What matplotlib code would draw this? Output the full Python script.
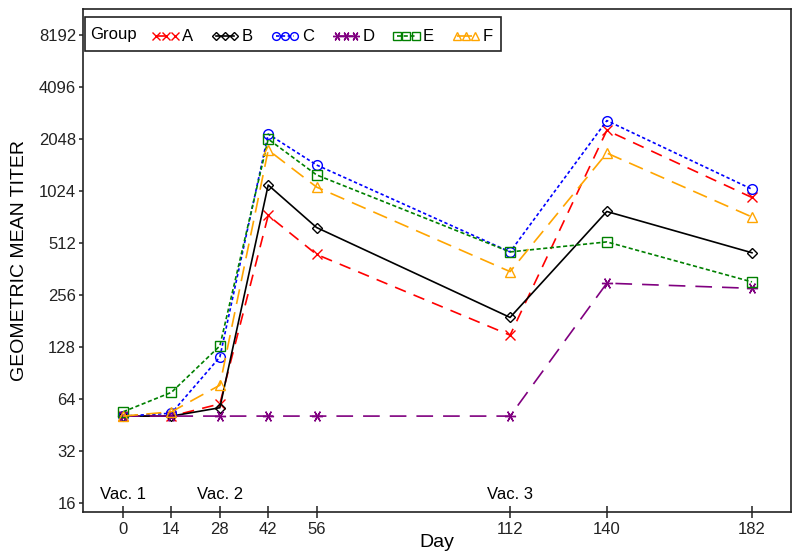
import matplotlib
matplotlib.use("Agg")
import matplotlib.pyplot as plt
from matplotlib.patches import Rectangle
from matplotlib.ticker import NullLocator
import matplotlib.transforms as mtransforms

plt.rcParams['font.family'] = ['Liberation Sans', 'DejaVu Sans']

days = [0, 14, 28, 42, 56, 112, 140, 182]
group_A = [51, 51, 60, 740, 440, 150, 2300, 940]
group_B = [51, 51, 57, 1110, 630, 190, 780, 450]
group_C = [51, 53, 112, 2190, 1450, 455, 2620, 1050]
group_D = [51, 51, 51, 51, 51, 51, 300, 280]
group_E = [54, 70, 130, 2048, 1270, 455, 520, 305]
group_F = [51, 54, 77, 1770, 1080, 350, 1700, 725]
group_names = ['A', 'B', 'C', 'D', 'E', 'F']
ytick_vals = [16, 32, 64, 128, 256, 512, 1024, 2048, 4096, 8192]
vac_days = [0, 28, 112]
vac_labels = ['Vac. 1', 'Vac. 2', 'Vac. 3']

series = [group_A, group_B, group_C, group_D, group_E, group_F]
styles = [
    dict(color='#FF0000', marker='x', ls=(0, (7, 5)), ms=7.5),
    dict(color='#000000', marker='D', ls='-', ms=5),
    dict(color='#0000FF', marker='o', ls=(0, (2, 1.5)), ms=7),
    dict(color='#800080', marker=(6, 2, 90), ls=(0, (10, 6)), ms=8),
    dict(color='#008000', marker='s', ls=(0, (2.5, 1.5)), ms=7),
    dict(color='#FFA500', marker='^', ls=(0, (9, 5)), ms=7.5),
]

fig = plt.figure(figsize=(8, 5.59), dpi=100)
ax = fig.add_axes([83/800, 1 - 512/559, (791-83)/800, (512-9)/559])

handles = []
for name, vals, st in zip(group_names, series, styles):
    h, = ax.plot(days, vals, color=st['color'], linestyle=st['ls'], lw=1.2,
                 marker=st['marker'], ms=st['ms'], mfc='none', mec=st['color'], mew=1.0,
                 label=name)
    handles.append(h)

ax.set_yscale('log', base=2)
ax.set_ylim(14.2, 11600)
ax.set_xlim(-11.6, 193.3)
ax.set_yticks(ytick_vals)
ax.set_yticklabels([str(v) for v in ytick_vals])
ax.yaxis.set_minor_locator(NullLocator())
ax.set_xticks(days)
ax.set_xticklabels([str(d) for d in days])
ax.tick_params(axis='x', direction='inout', length=8, width=1.1, labelsize=12, pad=3, colors='#222222')
ax.tick_params(axis='y', direction='out', length=3, width=1.1, labelsize=12, pad=2, colors='#222222')
for sp in ax.spines.values():
    sp.set_linewidth(1.2)
    sp.set_color('#222222')

ax.set_xlabel('Day', fontsize=14, labelpad=-2)
ax.set_ylabel('GEOMETRIC MEAN TITER', fontsize=14, labelpad=8)

trans = mtransforms.blended_transform_factory(ax.transData, ax.transAxes)
for d, lab in zip(vac_days, vac_labels):
    ax.text(d, 0.035, lab, transform=trans, ha='center', va='center', fontsize=12)

leg = ax.legend(handles=handles, loc='upper left', bbox_to_anchor=(138/800, 1 - 16/559),
                bbox_transform=fig.transFigure, ncol=6, frameon=False, fontsize=12,
                numpoints=3, handlelength=1.7, handletextpad=0.15, columnspacing=1.07,
                borderpad=0.3, markerscale=0.8)

fig.text(90/800, 1 - 34/559, 'Group', fontsize=12, ha='left', va='center')
fig.patches.append(Rectangle((85/800, 1 - 51/559), (501-85)/800, (51-17)/559,
                             transform=fig.transFigure, fill=False, ec='#222222', lw=1.2))

fig.savefig('out.png', dpi=100)
